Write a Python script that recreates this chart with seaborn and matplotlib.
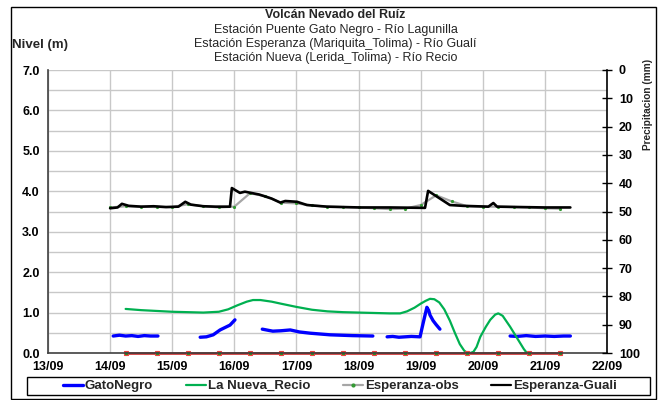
import numpy as np
import pandas as pd
import matplotlib
matplotlib.use("Agg")
import matplotlib.pyplot as plt
import seaborn as sns
from matplotlib.lines import Line2D
from matplotlib.patches import Rectangle

sns.set_theme(style="white")
plt.rcParams['font.family'] = ['Liberation Sans', 'DejaVu Sans']

# ---- data (x = day of September) ----
x_ticks = [13, 14, 15, 16, 17, 18, 19, 20, 21, 22]
x_labels = ["13/09", "14/09", "15/09", "16/09", "17/09", "18/09", "19/09", "20/09", "21/09", "22/09"]
y_ticks = [0, 1, 2, 3, 4, 5, 6, 7]
y_labels = ["0.0", "1.0", "2.0", "3.0", "4.0", "5.0", "6.0", "7.0"]
p_ticks = [0, 10, 20, 30, 40, 50, 60, 70, 80, 90, 100]

# GatoNegro (segments)
gato_seg = [1]*8 + [2]*6 + [3]*10 + [4]*13 + [5]*8
gato_x = [14.05, 14.15, 14.25, 14.35, 14.45, 14.55, 14.65, 14.77,
          15.45, 15.55, 15.66, 15.77, 15.93, 16.01,
          16.45, 16.55, 16.62, 16.75, 16.90, 17.05, 17.22, 17.54, 17.90, 18.23,
          18.46, 18.55, 18.65, 18.75, 18.85, 18.99, 19.04, 19.10, 19.13, 19.15, 19.20, 19.25, 19.31,
          20.44, 20.55, 20.70, 20.85, 21.00, 21.15, 21.30, 21.41]
gato_y = [0.42, 0.44, 0.42, 0.43, 0.41, 0.43, 0.42, 0.42,
          0.39, 0.40, 0.45, 0.57, 0.69, 0.82,
          0.59, 0.56, 0.54, 0.55, 0.57, 0.52, 0.49, 0.45, 0.43, 0.42,
          0.40, 0.41, 0.39, 0.40, 0.41, 0.40, 0.74, 1.13, 1.05, 0.94, 0.80, 0.70, 0.59,
          0.42, 0.41, 0.43, 0.41, 0.42, 0.41, 0.42, 0.42]

# La Nueva_Recio
recio_x = [14.25, 14.5, 14.75, 15.0, 15.25, 15.5, 15.75, 15.9, 16.05, 16.2, 16.3, 16.42, 16.6, 16.75,
           17.0, 17.25, 17.5, 17.75, 18.0, 18.25, 18.5, 18.67, 18.78, 18.9, 19.0, 19.08, 19.15, 19.22,
           19.3, 19.38, 19.47, 19.55, 19.63, 19.70, 19.75, 19.80, 19.85, 19.90, 19.96, 20.05, 20.12,
           20.20, 20.25, 20.32, 20.44, 20.52, 20.60, 20.66, 20.71]
recio_y = [1.09, 1.06, 1.04, 1.02, 1.01, 1.00, 1.02, 1.08, 1.18, 1.27, 1.31, 1.31, 1.27, 1.22,
           1.14, 1.07, 1.03, 1.01, 1.00, 0.99, 0.98, 0.98, 1.03, 1.12, 1.22, 1.29, 1.34, 1.33,
           1.25, 1.08, 0.80, 0.50, 0.22, 0.06, 0.0, 0.0, 0.03, 0.15, 0.40, 0.65, 0.82,
           0.95, 0.98, 0.92, 0.65, 0.45, 0.25, 0.10, 0.0]

# Esperanza-obs
obs_x = [14.0, 14.25, 14.5, 14.75, 15.0, 15.25, 15.5, 15.75, 16.0, 16.25, 16.5, 16.75,
         17.0, 17.25, 17.5, 17.75, 18.0, 18.25, 18.5, 18.75, 19.0, 19.25, 19.5, 19.75,
         20.0, 20.25, 20.5, 20.75, 21.0, 21.25]
obs_y = [3.60, 3.63, 3.62, 3.61, 3.61, 3.68, 3.63, 3.60, 3.62, 3.95, 3.88, 3.72,
         3.70, 3.65, 3.62, 3.61, 3.60, 3.58, 3.56, 3.57, 3.66, 3.90, 3.75, 3.63,
         3.62, 3.62, 3.61, 3.60, 3.58, 3.57]

# Esperanza-Guali
guali_x = [14.0, 14.12, 14.19, 14.3, 14.5, 14.7, 14.9, 15.1, 15.21, 15.3, 15.5, 15.7, 15.93,
           15.96, 16.09, 16.17, 16.4, 16.6, 16.74, 16.82, 17.01, 17.17, 17.49, 18.02, 18.5,
           19.07, 19.12, 19.26, 19.47, 19.68, 20.09, 20.17, 20.23, 20.6, 21.0, 21.41]
guali_y = [3.58, 3.60, 3.69, 3.64, 3.62, 3.63, 3.61, 3.62, 3.74, 3.67, 3.63, 3.62, 3.62,
           4.08, 3.96, 3.99, 3.92, 3.82, 3.72, 3.76, 3.74, 3.66, 3.62, 3.60, 3.60,
           3.59, 4.01, 3.87, 3.66, 3.64, 3.62, 3.71, 3.62, 3.61, 3.60, 3.60]

# Precipitation series (zero level)
prec_x = [14.25, 14.75, 15.25, 15.75, 16.25, 16.75, 17.25, 17.75, 18.25, 18.75,
          19.25, 19.75, 20.25, 20.75, 21.25]
prec_y = [0.0] * len(prec_x)

# ---- figure ----
fig = plt.figure(figsize=(6.58, 4.0), dpi=100)
ax = fig.add_axes([48/658, 1-353/400, (607-48)/658, (353-70)/400])

TICK_FS = 9
ax.set_xlim(13, 22)
ax.set_ylim(0, 7)
ax.set_xticks(x_ticks)
ax.set_xticklabels(x_labels, fontsize=TICK_FS, fontweight='bold')
ax.set_yticks(y_ticks)
ax.set_yticklabels(y_labels, fontsize=TICK_FS, fontweight='bold')
ax.set_yticks(np.arange(0, 7.01, 0.5), minor=True)
ax.grid(True, which='both', axis='y', color='#c8c8c8', lw=1)
ax.grid(True, which='major', axis='x', color='#c8c8c8', lw=1)
ax.tick_params(axis='both', which='both', length=0, colors='black')
ax.tick_params(axis='y', pad=6)
ax.tick_params(axis='x', pad=6)
ax.set_axisbelow(True)
for s in ['top', 'right']:
    ax.spines[s].set_visible(False)
for s in ['left', 'bottom']:
    ax.spines[s].set_color('#404040')
    ax.spines[s].set_linewidth(1.2)

df_gato = pd.DataFrame({'x': gato_x, 'y': gato_y, 'seg': gato_seg})
sns.lineplot(data=df_gato, x='x', y='y', units='seg', estimator=None, sort=False,
             color='#0000ff', lw=2.4, ax=ax, legend=False)
sns.lineplot(x=recio_x, y=recio_y, sort=False, color='#00b050', lw=1.6, ax=ax)
sns.lineplot(x=obs_x, y=obs_y, sort=False, color='#a6a6a6', lw=1.6, ax=ax,
             marker='o', markersize=1.5, markerfacecolor='#339933', markeredgecolor='#339933')
sns.lineplot(x=guali_x, y=guali_y, sort=False, color='black', lw=1.9, ax=ax)
sns.lineplot(x=prec_x, y=prec_y, sort=False, color='#c81818', lw=1.8, ax=ax,
             marker='s', markersize=3, markerfacecolor='#1a9a1a', markeredgecolor='#f04040',
             markeredgewidth=0.8, clip_on=False)
ax.set_xlabel('')
ax.set_ylabel('')

# right axis
ax2 = ax.twinx()
ax2.set_ylim(100, 0)
ax2.set_yticks(p_ticks)
ax2.set_yticklabels([str(v) for v in p_ticks], fontsize=TICK_FS, fontweight='bold')
ax2.tick_params(axis='y', direction='inout', length=7, width=1, colors='black', pad=5)
for s in ['top', 'left', 'bottom']:
    ax2.spines[s].set_visible(False)
ax2.spines['right'].set_color('black')
ax2.spines['right'].set_linewidth(1.2)
ax2.grid(False)

# texts
TFS = 9
fig.text(0.51, 1-15/400, "Volcán Nevado del Ruíz", ha='center', va='center', fontsize=TFS, fontweight='bold')
fig.text(0.51, 1-30/400, "Estación Puente Gato Negro - Río Lagunilla", ha='center', va='center', fontsize=TFS)
fig.text(0.51, 1-44/400, "Estación Esperanza (Mariquita_Tolima) - Río Gualí", ha='center', va='center', fontsize=TFS)
fig.text(0.51, 1-58/400, "Estación Nueva (Lerida_Tolima) - Río Recio", ha='center', va='center', fontsize=TFS)
fig.text(12/658, 1-45/400, "Nivel (m)", ha='left', va='center', fontsize=9.5, fontweight='bold')
fig.text(648/658, 1-104/400, "Precipitacion (mm)", ha='center', va='center', fontsize=7.3,
         fontweight='bold', rotation=90, family=['Liberation Sans Narrow', 'Liberation Sans'])

# legend
handles = [
    Line2D([], [], color='#0000ff', lw=2.4),
    Line2D([], [], color='#00b050', lw=1.6),
    Line2D([], [], color='#a6a6a6', lw=1.6, marker='o', markersize=2,
           markerfacecolor='#339933', markeredgecolor='#339933'),
    Line2D([], [], color='black', lw=1.6),
]
labels = ["GatoNegro", "La Nueva_Recio", "Esperanza-obs", "Esperanza-Guali"]
leg = fig.legend(handles, labels, loc='center', bbox_to_anchor=(340/658, 1-386/400),
                 ncol=4, frameon=False, prop={'weight': 'bold', 'size': 9.5},
                 handlelength=1.5, columnspacing=2.5, borderpad=0.0, handletextpad=0.15)

# legend frame
fig.patches.append(Rectangle((27/658, 1-395/400), (650-27)/658, (395-377)/400, transform=fig.transFigure,
                             fill=False, edgecolor='black', lw=1))
# outer border
fig.patches.append(Rectangle((11/658, 1/400), (656-11)/658, (393-1)/400, transform=fig.transFigure,
                             fill=False, edgecolor='black', lw=1))

fig.savefig("out.png", dpi=100)
